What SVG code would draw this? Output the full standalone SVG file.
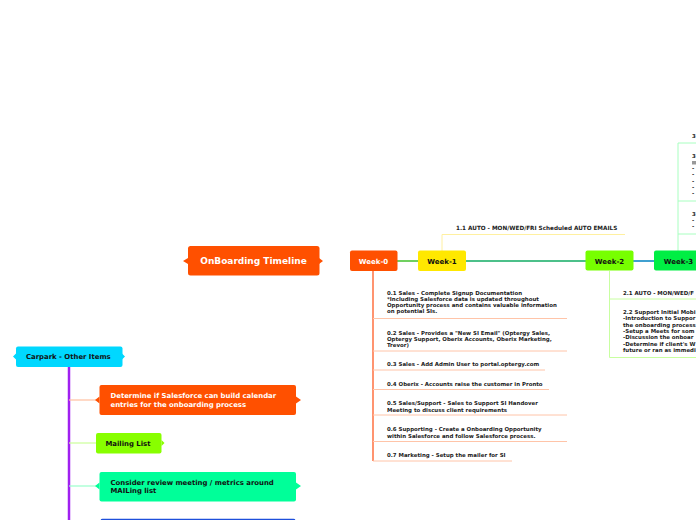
<svg xmlns="http://www.w3.org/2000/svg" width="696" height="520" viewBox="0 0 696 520">
<style>
text{font-family:"DejaVu Sans","Verdana",sans-serif;font-weight:bold}
.big{font-size:9px;fill:#fff}
.wk{font-size:7px;text-anchor:middle}
.sm{font-size:5.45px;fill:#222}
.cp{font-size:6.9px}
.ul0{stroke:#FFC4A8;stroke-width:1;fill:none}
.ul2{stroke:#C8FFA0;stroke-width:1;fill:none}
.ul3{stroke:#A8FFC0;stroke-width:1;fill:none}
</style>
<defs>
<linearGradient id="g0" x1="0" x2="1" y1="0" y2="0"><stop offset="0" stop-color="#E06020"/><stop offset="1" stop-color="#A0A030"/></linearGradient>
</defs>
<rect width="696" height="520" fill="#fff"/>
<g id="connectors">
<line x1="319" y1="261" x2="350" y2="261" stroke="url(#g0)" stroke-width="2"/>
<line x1="397" y1="261" x2="418" y2="261" stroke="#70D060" stroke-width="2"/>
<line x1="466" y1="261" x2="586" y2="261" stroke="#4CC08A" stroke-width="2"/>
<line x1="633" y1="261" x2="654" y2="261" stroke="#40A0D0" stroke-width="2"/>
<line x1="373" y1="271" x2="373" y2="461" stroke="#FF7040" stroke-width="1.5"/>
<path class="ul0" d="M373 318.5H567M373 351H567M373 370H545M373 389.5H549M373 415H567M373 441.5H567M373 461H512"/>
<path d="M442 251V234.5H625" stroke="#FFF0A0" stroke-width="1" fill="none"/>
<path class="ul2" d="M609.5 271V357.5H696M609.5 299H696"/>
<path class="ul3" d="M678 251V143H696M678 201H696M678 234H696"/>
<line x1="69" y1="367" x2="69" y2="520" stroke="#A020F0" stroke-width="2.5"/>
<line x1="69" y1="400" x2="96" y2="400" stroke="#FFC0A0" stroke-width="1.2"/>
<line x1="69" y1="443" x2="96" y2="443" stroke="#CCFF99" stroke-width="1.2"/>
<line x1="69" y1="486" x2="96" y2="486" stroke="#99FFCC" stroke-width="1.2"/>
</g>
<g id="root">
<path d="M183 261L188 258V264Z M319 258L323 261L319 264Z" fill="#FF5000"/>
<rect x="188" y="246" width="131.5" height="29.5" rx="2.5" fill="#FF5000"/>
<text class="big" x="253.5" y="264" text-anchor="middle">OnBoarding Timeline</text>
</g>
<g id="week0">
<rect x="350" y="250.5" width="47.5" height="20.5" rx="2" fill="#FF5000"/>
<text class="wk" x="373.5" y="263.5" fill="#fff">Week-0</text>
</g>
<g id="week1">
<rect x="418" y="250.5" width="48" height="20.5" rx="2" fill="#FFE800"/>
<text class="wk" x="442" y="263.5" fill="#111">Week-1</text>
</g>
<g id="week2">
<rect x="585.5" y="250.5" width="48" height="20" rx="2" fill="#77FF00"/>
<text class="wk" x="609.5" y="263.5" fill="#111">Week-2</text>
</g>
<g id="week3">
<rect x="654" y="250.5" width="50" height="20" rx="2" fill="#00EE44"/>
<text class="wk" x="678.5" y="263.5" fill="#111">Week-3</text>
</g>
<g id="w0items">
<text class="sm" x="387"><tspan x="387" y="294.5">0.1 Sales - Complete Signup Documentation</tspan><tspan x="387" y="300.8">*Including Salesforce data is updated throughout</tspan><tspan x="387" y="307.1">Opportunity process and contains valuable information</tspan><tspan x="387" y="313.4">on potential SIs.</tspan></text>
<text class="sm" x="387"><tspan x="387" y="334.5">0.2 Sales - Provides a "New SI Email" (Optergy Sales,</tspan><tspan x="387" y="340.8">Optergy Support, Oberix Accounts, Oberix Marketing,</tspan><tspan x="387" y="347.1">Trevor)</tspan></text>
<text class="sm" x="387" y="365.5">0.3 Sales - Add Admin User to portal.optergy.com</text>
<text class="sm" x="387" y="385.5">0.4 Oberix - Accounts raise the customer in Pronto</text>
<text class="sm"><tspan x="387" y="404.8">0.5 Sales/Support - Sales to Support SI Handover</tspan><tspan x="387" y="411.5">Meeting to discuss client requirements</tspan></text>
<text class="sm"><tspan x="387" y="430.8">0.6 Supporting - Create a Onboarding Opportunity</tspan><tspan x="387" y="437.5">within Salesforce and follow Salesforce process.</tspan></text>
<text class="sm" x="387" y="456.8">0.7 Marketing - Setup the mailer for SI</text>
</g>
<g id="w1items">
<text class="sm" x="456" y="230" style="font-size:5.7px">1.1 AUTO - MON/WED/FRI Scheduled AUTO EMAILS</text>
</g>
<g id="w2items">
<text class="sm" x="623" y="295">2.1 AUTO - MON/WED/F</text>
<text class="sm"><tspan x="623" y="314">2.2 Support Initial Mobi</tspan><tspan x="623" y="320.3">-Introduction to Suppor</tspan><tspan x="623" y="326.6">the onboarding process</tspan><tspan x="623" y="332.9">-Setup a Meets for som</tspan><tspan x="623" y="339.2">-Discussion the onboar</tspan><tspan x="623" y="345.5">-Determine if client's W</tspan><tspan x="623" y="351.8">future or ran as immedi</tspan></text>
</g>
<g id="w3items">
<text class="sm" x="692" y="138">3</text>
<text class="sm" x="692" y="157.5">3</text>
<rect x="692" y="161" width="4" height="3.5" fill="#999"/>
<text class="sm"><tspan x="692" y="170">-</tspan><tspan x="692" y="176.3">-</tspan><tspan x="692" y="182.6">-</tspan><tspan x="692" y="188.9">-</tspan><tspan x="692" y="195.2">-</tspan></text>
<text class="sm" x="692" y="216">3</text>
<text class="sm"><tspan x="692" y="222">-</tspan><tspan x="692" y="228.3">-</tspan></text>
</g>
<g id="carpark">
<path d="M13 356.5L16 353.5V359.5Z M122 353.5L125 356.5L122 359.5Z" fill="#00D8FF"/>
<rect x="16" y="346.5" width="106.5" height="20.5" rx="2" fill="#00D8FF"/>
<text class="cp" x="26" y="359.2" fill="#111">Carpark - Other Items</text>
</g>
<g id="salesforce-calendar">
<path d="M95 400L99.5 396.5V403.5Z M296 396.5L301 400L296 403.5Z" fill="#FF5000"/>
<rect x="99.5" y="385" width="196.5" height="30" rx="2" fill="#FF5000"/>
<text class="cp" fill="#fff"><tspan x="110.5" y="397.7">Determine if Salesforce can build calendar</tspan><tspan x="110.5" y="406.6">entries for the onboarding process</tspan></text>
</g>
<g id="mailing-list">
<path d="M161.5 440L164.5 443L161.5 446Z" fill="#88FF00"/>
<rect x="96" y="433" width="65.5" height="20.5" rx="2" fill="#88FF00"/>
<text class="cp" x="105.5" y="445.7" fill="#111">Mailing List</text>
</g>
<g id="review-meeting">
<path d="M95 486L99.5 482.5V489.5Z M296 482.5L301 486L296 489.5Z" fill="#00FF99"/>
<rect x="99.5" y="472" width="196.5" height="29.5" rx="2" fill="#00FF99"/>
<text class="cp" fill="#111"><tspan x="110.5" y="485.2">Consider review meeting / metrics around</tspan><tspan x="110.5" y="493.2">MAILing list</tspan></text>
</g>
<g id="blue-item">
<rect x="100.5" y="518.8" width="195" height="8" rx="2" fill="#1E4FDB"/>
</g>
</svg>
